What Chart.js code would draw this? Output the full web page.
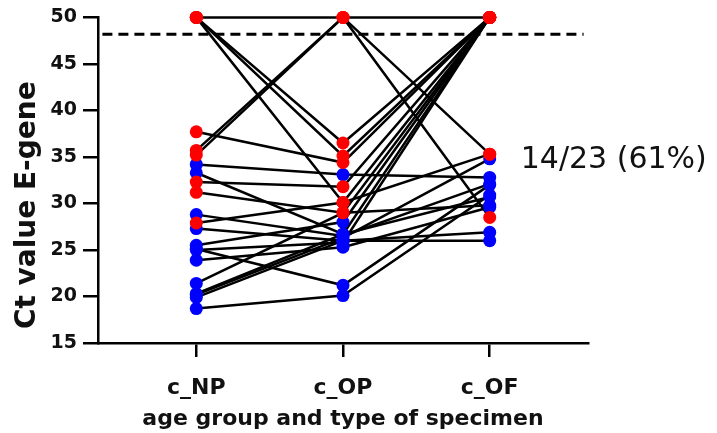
<!DOCTYPE html>
<html>
<head>
<meta charset="utf-8">
<script src="https://cdn.jsdelivr.net/npm/chart.js@4/dist/chart.umd.min.js"></script>
<style>
  html, body { margin: 0; padding: 0; background: #fff; }
  #wrap { width: 717px; height: 433px; }
</style>
</head>
<body>
<div id="wrap"><canvas id="ct-chart"></canvas></div>
<script>
// Ct values per child, one entry per subject (23)
const categories = ['c_NP', 'c_OP', 'c_OF'];
const npValues = [50, 50, 50, 50, 35.7, 35.2, 37.7, 34.2, 33.3, 32.3, 31.2, 28.8, 27.9, 27.3, 25.5, 25.1, 23.9, 21.4, 20.3, 19.9, 18.7, 25.0, 20.2];
const opValues = [50, 36.5, 35.1, 30.1, 50, 50, 34.4, 33.1, 26.7, 31.8, 29.0, 26.5, 30.1, 26.0, 28.0, 21.2, 25.3, 29.0, 26.7, 26.0, 20.1, 25.8, 26.3];
const ofValues = [50, 50, 50, 50, 35.3, 28.5, 50, 32.8, 30.7, 50, 50, 32.1, 35.3, 26.9, 50, 32.0, 29.6, 29.8, 50, 26.0, 30.9, 50, 34.8];
// 1 = red marker, 0 = blue marker
const npRed = [1, 1, 1, 1, 1, 1, 1, 0, 0, 1, 1, 0, 1, 0, 0, 0, 0, 0, 0, 0, 0, 0, 0];
const opRed = [1, 1, 1, 1, 1, 1, 1, 0, 0, 1, 1, 0, 1, 0, 0, 0, 0, 1, 0, 0, 0, 0, 0];
const ofRed = [1, 1, 1, 1, 1, 1, 1, 0, 0, 1, 1, 0, 1, 0, 1, 0, 0, 0, 1, 0, 0, 1, 0];
const cutoffValue = 48.2;
const yMin = 15, yMax = 50, yStep = 5;
const yTitle = 'Ct value E-gene';
const noteText = '14/23 (61%)';

const RED = '#ff0000';
const BLUE = '#0000ff';
const INK = '#111';

const columns = [npValues, opValues, ofValues];
const flags = [npRed, opRed, ofRed];

const datasets = [];

// red and blue markers on top of everything
const redPts = [], bluePts = [];
columns.forEach((vals, c) => {
  vals.forEach((v, i) => {
    (flags[c][i] ? redPts : bluePts).push({ x: c, y: v });
  });
});
datasets.push({ data: redPts, showLine: false, pointRadius: 6.5, pointHoverRadius: 6.5,
  pointBackgroundColor: RED, pointBorderWidth: 0, order: 0, clip: false });
datasets.push({ data: bluePts, showLine: false, pointRadius: 6.5, pointHoverRadius: 6.5,
  pointBackgroundColor: BLUE, pointBorderWidth: 0, order: 1, clip: false });

// dashed cut-off
datasets.push({
  data: [{ x: -0.64, y: cutoffValue }, { x: 2.64, y: cutoffValue }],
  showLine: true, borderColor: '#000', borderWidth: 3, borderDash: [10, 6],
  pointRadius: 0, order: 2, clip: false
});

// one line per subject
npValues.forEach((v, i) => {
  datasets.push({
    data: [{ x: 0, y: v }, { x: 1, y: opValues[i] }, { x: 2, y: ofValues[i] }],
    showLine: true, borderColor: '#000', borderWidth: 2.5, pointRadius: 0,
    tension: 0, order: 3, clip: false
  });
});

// y title sits a little below the axis centre in the original, plus the side note
const textPlugin = {
  id: 'texts',
  afterDraw(chart) {
    const { ctx, scales, chartArea } = chart;
    ctx.save();
    ctx.fillStyle = INK;
    ctx.textAlign = 'center';
    ctx.textBaseline = 'middle';
    ctx.font = "bold 28px 'DejaVu Sans'";
    ctx.translate(chartArea.left - 70, (chartArea.top + chartArea.bottom) / 2 + 25);
    ctx.rotate(-Math.PI / 2);
    ctx.fillText(yTitle, 0, 0);
    ctx.restore();

    ctx.save();
    ctx.font = "30px 'DejaVu Sans'";
    ctx.fillStyle = INK;
    ctx.textAlign = 'left';
    ctx.textBaseline = 'middle';
    ctx.fillText(noteText, scales.x.getPixelForValue(2) + 31, scales.y.getPixelForValue(34.6));
    ctx.restore();
  }
};

new Chart(document.getElementById('ct-chart'), {
  type: 'scatter',
  data: { datasets: datasets },
  options: {
    responsive: true,
    maintainAspectRatio: false,
    animation: false,
    events: [],
    layout: { padding: { top: 16, right: 129, left: 0, bottom: 0 } },
    plugins: { legend: { display: false }, tooltip: { enabled: false } },
    scales: {
      x: {
        type: 'linear',
        min: -0.67,
        max: 2.67,
        afterBuildTicks: (s) => { s.ticks = [0, 1, 2].map(v => ({ value: v })); },
        afterFit: (s) => { s.height = 90; },
        border: { display: true, color: '#000', width: 2.5 },
        grid: { drawOnChartArea: false, drawTicks: true, tickLength: 14, color: '#000', lineWidth: 2.5 },
        ticks: {
          color: INK,
          padding: 18,
          font: { family: "'DejaVu Sans'", size: 22, weight: 'bold' },
          callback: (v) => categories[v]
        },
        title: {
          display: true,
          text: 'age group and type of specimen',
          color: INK,
          padding: { top: 0, bottom: 1 },
          font: { family: "'DejaVu Sans'", size: 22, weight: 'bold' }
        }
      },
      y: {
        min: yMin,
        max: yMax,
        afterFit: (s) => { s.width = 98; },
        border: { display: true, color: '#000', width: 2.5 },
        grid: { drawOnChartArea: false, drawTicks: true, tickLength: 15, color: '#000', lineWidth: 2.5 },
        ticks: {
          stepSize: yStep,
          color: INK,
          padding: 6,
          font: { family: "'DejaVu Sans'", size: 19, weight: 'bold' }
        }
      }
    }
  },
  plugins: [textPlugin]
});
</script>
</body>
</html>
